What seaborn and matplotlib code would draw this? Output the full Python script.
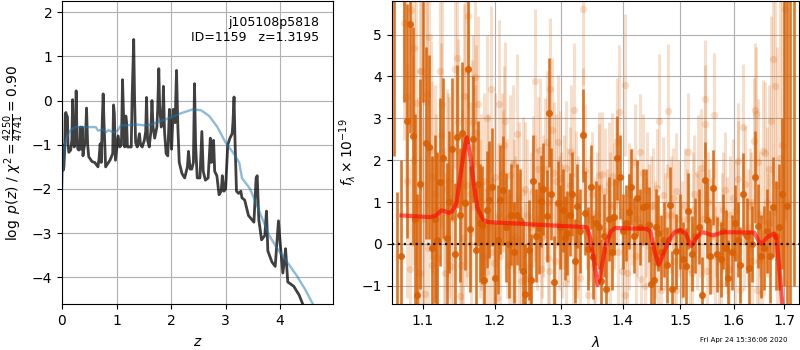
import matplotlib
matplotlib.use('Agg')
import matplotlib.pyplot as plt
from matplotlib.ticker import NullFormatter
import seaborn as sns

# p(z) (black curve)
z_grid = [0, .02, .035, .05, .06, .07, .085, .10, .11, .125, .16, .18, .195, .21, .225,
          .245, .26, .275, .29, .31, .325, .335, .345, .36, .37, .385, .40, .43, .45, .47,
          .49, .55, .6, .66, .68, .70, .72, .74, .755, .77, .80, .88, .93, .945, .96,
          .98, 1.03, 1.06, 1.09, 1.11, 1.13, 1.15, 1.17, 1.185, 1.2, 1.24, 1.27, 1.285, 1.30, 1.315,
          1.33, 1.35, 1.38, 1.42, 1.44, 1.47, 1.51, 1.535, 1.55, 1.57, 1.6, 1.63, 1.65, 1.67, 1.7,
          1.74, 1.755, 1.775, 1.79, 1.82, 1.845, 1.86, 1.88, 1.91, 1.94, 1.97, 1.985, 2.01, 2.04, 2.075,
          2.1, 2.125, 2.15, 2.2, 2.25, 2.3, 2.32, 2.35, 2.38, 2.41, 2.43, 2.45, 2.48, 2.53, 2.565,
          2.59, 2.63, 2.68, 2.72, 2.74, 2.76, 2.78, 2.8, 2.84, 2.88, 2.92, 2.94, 2.97, 3.0, 3.04,
          3.08, 3.12, 3.135, 3.155, 3.175, 3.2, 3.24, 3.28, 3.3, 3.35, 3.42, 3.52, 3.56, 3.58, 3.61,
          3.66, 3.72, 3.75, 3.775, 3.85, 3.91, 3.97, 4.0, 4.05, 4.08, 4.1, 4.14, 4.25, 4.35, 4.43]
logp = [-1.0, -1.58, -1.5, -1.1, -0.3, -0.27, -0.33, -0.37, -1.0, -1.17, -1.12, -0.9, 0.02, -0.9, -1.05,
        -0.9, 0.22, -0.9, -1.1, -1.12, -1.0, -0.6, -1.1, -1.0, -0.6, -1.25, -1.1, -0.9, -0.17, -1.0,
        -1.27, -1.38, -1.4, -1.5, -1.3, -0.98, -1.4, -0.4, 0.15, -0.5, -1.5, -1.35, -1.2, -0.1, -0.3,
        -1.35, -0.8, -1.05, -1.0, 0.47, -0.4, -1.05, -0.35, -0.5, -1.05, -1.05, -1.05, 0.0, 0.65, 1.38,
        0.1, -0.95, -1.05, -0.75, -1.0, -1.05, -0.9, -0.7, 0.07, -0.9, -1.05, -0.7, 0.0, -0.6, -0.85,
        -0.6, -0.2, 0.72, -0.1, -0.6, -0.4, 0.32, -0.7, -1.2, -1.25, -0.2, -0.6, -1.1, -0.2, -0.5,
        0.68, -0.6, -1.4, -1.65, -1.75, -1.5, -1.15, -1.55, -1.55, -1.4, 0.38, -1.0, -1.75, -1.75, -0.7,
        -1.6, -1.8, -1.75, -0.85, -1.4, -1.0, -0.9, -1.6, -1.7, -2.13, -2.05, -1.7, -2.05, -2.0, -1.0,
        -0.85, -0.75, -0.5, 0.08, -1.0, -2.05, -2.1, -2.05, -2.2, -2.25, -2.6, -2.75, -1.75, -1.7, -2.7,
        -3.15, -3.05, -2.5, -3.4, -3.65, -3.75, -2.72, -3.2, -3.9, -3.6, -3.35, -4.1, -4.2, -4.4, -4.65]

# prior (blue curve)
z_prior = [0.0, 0.03, 0.06, 0.1, 0.15, 0.25, 0.4, 0.62, 0.66, 0.7, 0.75, 0.8, 0.85, 0.95, 1.02, 1.08, 1.2, 1.35,
           1.5, 1.6, 1.8, 2.0, 2.2, 2.4, 2.55, 2.7, 2.85, 3.0, 3.15, 3.25, 3.3, 3.45, 3.6, 3.7, 3.8, 3.95,
           4.1, 4.3, 4.45, 4.6, 4.65]
log_prior = [-2.0, -1.2, -0.95, -0.8, -0.68, -0.6, -0.6, -0.6, -0.68, -0.67, -0.65, -0.72, -0.67, -0.72, -0.68,
             -0.56, -0.56, -0.54, -0.56, -0.55, -0.47, -0.38, -0.28, -0.2, -0.22, -0.35, -0.6, -0.95, -1.2,
             -1.4, -1.75, -2.0, -2.45, -2.75, -3.05, -3.35, -3.6, -3.95, -4.25, -4.6, -4.7]

# binned spectrum
dark_wave = [1.062, 1.067, 1.072, 1.076, 1.079, 1.083, 1.087, 1.090, 1.093, 1.096,
             1.100, 1.104, 1.108, 1.112, 1.116, 1.119, 1.123, 1.127, 1.132, 1.135,
             1.139, 1.143, 1.147, 1.150, 1.154, 1.158, 1.162, 1.165, 1.169, 1.173,
             1.176, 1.179, 1.182, 1.185, 1.188, 1.192, 1.196, 1.200, 1.204, 1.208,
             1.212, 1.216, 1.220, 1.224, 1.228, 1.233, 1.237, 1.241, 1.245, 1.250,
             1.254, 1.256, 1.261, 1.265, 1.268, 1.272, 1.277, 1.281, 1.284, 1.289,
             1.294, 1.298, 1.302, 1.305, 1.309, 1.313, 1.317, 1.321, 1.325, 1.329,
             1.334, 1.337, 1.342, 1.347, 1.350, 1.355, 1.360, 1.363, 1.368, 1.372,
             1.377, 1.382, 1.385, 1.390, 1.395, 1.400, 1.405, 1.410, 1.414, 1.419,
             1.424, 1.429, 1.434, 1.440, 1.444, 1.449, 1.453, 1.457, 1.461, 1.466,
             1.471, 1.476, 1.481, 1.486, 1.493, 1.499, 1.505, 1.511, 1.515, 1.521,
             1.527, 1.534, 1.540, 1.546, 1.550, 1.555, 1.560, 1.568, 1.575, 1.580,
             1.585, 1.590, 1.596, 1.602, 1.608, 1.613, 1.619, 1.625, 1.630, 1.636,
             1.641, 1.647, 1.653, 1.660, 1.665, 1.671, 1.678, 1.684, 1.690, 1.695,
             1.700, 1.706, 1.713, 1.720]
dark_flux = [6.5, -1.6, -0.3, 6.2, 2.93, 5.25, 2.57, 0.6, -1.22, 1.43,
             6.1, 2.41, 2.32, -0.1, 0.6, 0.1, 1.48, 2.05, 0.14, 1.0,
             2.27, -0.24, 2.56, 0.7, 2.65, 0.98, 4.18, 0.36, 2.5, -0.14,
             1.44, 0.5, 0.45, -0.87, 0.82, 1.06, 1.36, -0.81, 0.1, 1.06,
             1.28, 0.4, 0.0, 0.7, -0.2, 0.7, 0.58, -0.64, -1.2, -0.14,
             -0.87, 1.5, 0.2, 0.38, 1.02, 1.31, 0.66, 3.13, 1.2, -0.9,
             0.98, 0.4, 0.8, 0.14, 0.26, 0.7, 1.2, -0.4, 0.9, 0.3,
             2.59, 0.74, -0.11, 1.36, -0.31, 0.5, 0.4, -0.89, 0.2, -1.07,
             0.6, -0.19, 0.64, 2.05, 1.6, 0.3, 0.5, 0.77, 1.36, 0.2,
             1.1, 0.4, 0.88, 0.9, 0.46, -0.95, -0.85, 0.4, 0.26, -0.2,
             0.1, -0.5, 0.94, -1.07, -0.18, 0.3, -0.37, -0.53, 0.79, -0.23,
             0.2, 0.41, -1.22, 1.53, 0.57, -0.3, 1.34, -0.25, -0.37, 0.3,
             -0.1, -0.81, -0.2, 0.5, 0.1, -0.5, 1.18, 0.2, -0.57, 0.0,
             1.59, 0.42, -0.3, -0.1, 0.3, -0.3, 0.88, 0.2, 0.4, 1.2,
             7.0, 0.9, 7.0, 8.0]
dark_err = [4.4, 2.85, 2.3, 2.8, 2.8, 2.6, 2.6, 2.5, 2.4, 2.5,
            2.7, 2.3, 2.2, 2.2, 2.0, 2.1, 2.0, 1.9, 1.8, 1.7,
            1.7, 1.7, 1.7, 1.6, 1.7, 1.6, 1.8, 1.5, 1.5, 1.5,
            1.5, 1.4, 1.4, 1.4, 1.4, 1.4, 1.4, 1.3, 1.3, 1.3,
            1.3, 1.3, 1.3, 1.2, 1.2, 1.2, 1.2, 1.2, 1.2, 1.2,
            1.1, 1.1, 1.1, 1.1, 1.1, 1.1, 1.1, 1.3, 1.1, 1.1,
            1.0, 1.0, 1.0, 1.0, 1.0, 1.0, 1.0, 1.0, 1.0, 1.0,
            1.1, 1.0, 1.0, 1.0, 1.0, 1.0, 1.0, 1.0, 1.0, 1.0,
            1.0, 0.9, 0.9, 1.0, 1.0, 0.9, 0.9, 0.9, 0.9, 0.9,
            0.9, 0.9, 0.9, 0.9, 0.9, 0.9, 0.9, 0.9, 0.9, 0.9,
            0.9, 0.9, 0.9, 0.9, 0.9, 0.9, 0.9, 0.9, 0.9, 0.9,
            0.9, 0.9, 0.9, 0.9, 0.9, 0.9, 0.9, 0.9, 0.9, 0.9,
            0.9, 0.9, 0.9, 0.9, 0.9, 0.9, 1.0, 0.9, 0.9, 0.9,
            1.1, 1.0, 1.0, 1.0, 1.0, 1.1, 1.2, 1.3, 1.5, 1.8,
            8.0, 8.0, 9.0, 9.0]

# unbinned spectrum (pale)
light_wave = [1.076, 1.080, 1.085, 1.088, 1.091, 1.096, 1.096, 1.098, 1.103, 1.104,
              1.106, 1.109, 1.111, 1.113, 1.116, 1.119, 1.123, 1.126, 1.130, 1.133,
              1.136, 1.138, 1.143, 1.146, 1.150, 1.153, 1.155, 1.156, 1.157, 1.160,
              1.162, 1.164, 1.167, 1.169, 1.171, 1.173, 1.176, 1.180, 1.184, 1.187,
              1.188, 1.191, 1.194, 1.198, 1.200, 1.203, 1.206, 1.207, 1.210, 1.213,
              1.215, 1.218, 1.222, 1.225, 1.227, 1.230, 1.233, 1.236, 1.238, 1.242,
              1.245, 1.248, 1.250, 1.253, 1.256, 1.259, 1.262, 1.264, 1.267, 1.268,
              1.271, 1.274, 1.277, 1.279, 1.281, 1.283, 1.285, 1.288, 1.292, 1.294,
              1.296, 1.298, 1.301, 1.304, 1.307, 1.308, 1.311, 1.315, 1.318, 1.320,
              1.323, 1.327, 1.330, 1.334, 1.335, 1.338, 1.342, 1.345, 1.349, 1.353,
              1.357, 1.360, 1.361, 1.366, 1.370, 1.373, 1.376, 1.379, 1.381, 1.385,
              1.388, 1.390, 1.394, 1.398, 1.403, 1.404, 1.407, 1.411, 1.416, 1.420,
              1.424, 1.430, 1.431, 1.435, 1.437, 1.441, 1.445, 1.451, 1.455, 1.458,
              1.463, 1.466, 1.469, 1.473, 1.479, 1.484, 1.489, 1.493, 1.493, 1.498,
              1.503, 1.508, 1.515, 1.518, 1.523, 1.526, 1.530, 1.533, 1.538, 1.542,
              1.546, 1.546, 1.549, 1.553, 1.558, 1.562, 1.566, 1.571, 1.575, 1.579,
              1.583, 1.588, 1.593, 1.598, 1.603, 1.608, 1.609, 1.613, 1.618, 1.622,
              1.627, 1.632, 1.636, 1.640, 1.642, 1.644, 1.645, 1.648, 1.652, 1.656,
              1.658, 1.662, 1.666, 1.670, 1.674, 1.678, 1.682, 1.686, 1.692, 1.696,
              1.703, 1.078, 1.083, 1.087, 1.094, 1.100, 1.107, 1.112, 1.118, 1.124,
              1.129, 1.134, 1.141, 1.148, 1.152, 1.159, 1.166, 1.172, 1.178, 1.183,
              1.190, 1.196, 1.205, 1.212, 1.220, 1.228, 1.235, 1.244, 1.252, 1.260,
              1.270, 1.280, 1.290, 1.300, 1.313, 1.325, 1.340, 1.352, 1.364, 1.378,
              1.392, 1.410, 1.422, 1.440, 1.448, 1.461, 1.476, 1.487, 1.501, 1.512,
              1.521, 1.536, 1.551, 1.565, 1.578, 1.591, 1.605, 1.620, 1.634, 1.650,
              1.668]
light_flux = [5.28, 1.5, 5.58, 4.68, 3.37, 4.12, -0.7, 4.12, -1.19, 3.4,
              3.57, 4.94, 2.25, -0.5, 1.2, -0.33, 4.12, 3.34, -0.7, 1.3,
              1.1, -0.53, 4.18, 4.44, -1.25, 0.9, 0.14, 3.53, 4.12, 1.4,
              5.44, 1.2, 2.3, 2.9, 3.99, 2.65, 3.34, 1.0, 1.5, -0.68,
              3.0, 0.4, 3.69, -0.45, 1.6, -1.3, 3.34, -0.3, 1.7, 2.35,
              2.93, 0.6, 1.65, 0.1, 1.9, 0.2, 2.63, 1.1, -0.89, 1.24,
              -0.83, 0.7, -0.53, 0.4, 1.26, 3.9, 0.6, 1.8, 2.25, -0.61,
              0.9, 1.78, 2.43, -0.33, -0.65, 3.7, 2.73, 1.7, 1.5, 2.43,
              0.5, 1.58, 0.3, 1.0, 1.82, -0.93, 0.7, 2.2, 0.1, 3.2,
              1.1, 0.5, -0.81, 5.6, 2.61, 1.75, -1.23, 0.6, 1.18, 0.1,
              0.7, 1.64, 1.36, 1.66, 1.26, 0.3, 1.42, -0.2, 1.63, 0.9,
              1.5, 2.45, 3.14, -0.65, 3.79, -1.21, -0.69, 0.3, 0.9, 1.95,
              0.6, 2.19, -0.84, 1.7, -1.01, 1.28, 0.5, 0.9, 0.1, 1.34,
              2.93, -1.09, 1.16, 0.3, 3.17, 0.7, -0.4, 1.26, -1.1, 0.6,
              0.1, 0.9, 2.2, -0.6, 0.8, 1.19, 0.3, 1.67, 1.82, 0.6,
              3.46, 2.87, -0.65, 0.4, 0.2, 3.07, 0.6, -0.4, -0.93, 0.8,
              1.28, 0.2, 0.7, 1.1, -0.3, 1.97, 1.54, -1.09, 2.79, 1.42,
              0.4, 0.9, -0.4, 2.45, 3.2, 3.1, -1.09, 1.95, 0.7, -1.17,
              2.21, 2.17, 1.0, 1.8, 2.93, 4.42, 3.78, 1.4, 2.05, 2.35,
              5.6, 3.5, -0.6, 2.0, 1.0, 0.6, -0.1, 1.6, 0.8, 2.6,
              0.1, 1.5, 0.6, 2.9, -0.5, 1.0, 0.0, 1.9, 0.6, -0.3,
              1.3, -0.2, 0.7, 1.5, -0.5, 0.9, 0.1, 1.3, -0.8, 1.1,
              0.2, 1.0, -0.4, 0.8, 1.4, 0.0, 0.7, -0.5, 0.3, 0.9,
              -0.2, 1.2, -0.3, 0.4, 0.9, -0.5, 0.7, 1.1, -0.2, 0.6,
              -0.7, 0.4, 1.0, -0.3, 0.5, -0.6, 0.8, 0.1, 1.0, -0.4,
              0.5]
light_err = [2.8, 2.8, 2.8, 2.8, 2.8, 2.8, 2.8, 2.7, 2.7, 2.7,
             2.7, 2.7, 2.6, 2.6, 2.6, 2.5, 2.5, 2.5, 2.4, 2.4,
             2.4, 2.4, 2.4, 2.3, 2.3, 2.3, 2.3, 2.2, 2.2, 2.2,
             2.2, 2.2, 2.1, 2.1, 2.1, 2.1, 2.1, 2.1, 2.1, 2.0,
             2.0, 2.0, 2.0, 2.0, 2.0, 2.0, 2.0, 2.0, 1.9, 1.9,
             1.9, 1.9, 1.9, 1.9, 1.9, 1.9, 1.9, 1.8, 1.8, 1.8,
             1.8, 1.8, 1.8, 1.8, 1.8, 1.7, 1.7, 1.7, 1.7, 1.7,
             1.7, 1.7, 1.7, 1.7, 1.7, 1.7, 1.7, 1.7, 1.6, 1.6,
             1.6, 1.6, 1.6, 1.6, 1.6, 1.6, 1.6, 1.6, 1.6, 1.6,
             1.6, 1.6, 1.6, 1.8, 1.6, 1.6, 1.5, 1.5, 1.5, 1.5,
             1.5, 1.5, 1.5, 1.5, 1.5, 1.5, 1.5, 1.5, 1.5, 1.5,
             1.5, 1.5, 1.6, 1.5, 1.7, 1.5, 1.4, 1.4, 1.4, 1.4,
             1.4, 1.4, 1.4, 1.4, 1.4, 1.4, 1.4, 1.4, 1.4, 1.4,
             1.6, 1.4, 1.4, 1.4, 1.6, 1.4, 1.4, 1.4, 1.4, 1.4,
             1.4, 1.4, 1.4, 1.4, 1.4, 1.4, 1.4, 1.4, 1.4, 1.4,
             1.4, 1.4, 1.4, 1.4, 1.4, 1.5, 1.4, 1.4, 1.4, 1.4,
             1.4, 1.4, 1.4, 1.4, 1.4, 1.4, 1.4, 1.4, 1.5, 1.4,
             1.4, 1.4, 1.4, 1.5, 1.6, 1.6, 1.4, 1.5, 1.5, 1.5,
             1.7, 1.7, 1.8, 2.0, 2.5, 2.8, 3.1, 3.3, 3.8, 4.3,
             5.0, 2.6, 2.5, 2.5, 2.5, 2.4, 2.4, 2.3, 2.3, 2.2,
             2.2, 2.1, 2.1, 2.0, 2.0, 2.0, 1.9, 1.9, 1.9, 1.8,
             1.8, 1.8, 1.7, 1.7, 1.7, 1.6, 1.6, 1.6, 1.5, 1.5,
             1.5, 1.4, 1.4, 1.4, 1.4, 1.3, 1.3, 1.3, 1.3, 1.3,
             1.3, 1.2, 1.2, 1.2, 1.2, 1.2, 1.2, 1.2, 1.2, 1.2,
             1.2, 1.2, 1.2, 1.2, 1.2, 1.2, 1.2, 1.2, 1.2, 1.2,
             1.2]

# model
model_wave = [1.072, 1.11, 1.118, 1.125, 1.13, 1.135, 1.14, 1.146, 1.15, 1.155, 1.16, 1.165, 1.17, 1.175, 1.183,
              1.19, 1.3, 1.34, 1.345, 1.352, 1.358, 1.362, 1.37, 1.38, 1.387, 1.44, 1.447, 1.455, 1.462, 1.47,
              1.48, 1.49, 1.5, 1.51, 1.515, 1.52, 1.53, 1.54, 1.55, 1.56, 1.58, 1.64, 1.65, 1.655, 1.665,
              1.68, 1.685, 1.692, 1.697]
model_flux = [0.68, 0.64, 0.68, 0.8, 0.78, 0.74, 0.78, 1.0, 1.5, 2.1, 2.55, 2.1, 1.4, 0.85, 0.58,
              0.52, 0.43, 0.4, 0.2, -0.4, -0.98, -0.8, -0.1, 0.3, 0.38, 0.36, 0.3, -0.2, -0.5, -0.25,
              0.1, 0.28, 0.33, 0.25, 0.1, -0.05, 0.15, 0.28, 0.25, 0.2, 0.28, 0.27, 0.05, 0.0, 0.15,
              0.25, 0.1, -0.8, -1.5]

orange = '#d95f02'

fig = plt.figure(figsize=(8, 3.5), dpi=100)
ax = fig.add_axes([62 / 800, 46 / 350, 271 / 800, 303 / 350])
sns.lineplot(x=z_grid, y=logp, ax=ax, color='k', lw=2, alpha=0.75, sort=False, errorbar=None)
sns.lineplot(x=z_prior, y=log_prior, ax=ax, color='tab:blue', lw=1.7, alpha=0.5, sort=False, errorbar=None)
ax.set_xlim(0, 4.97)
ax.set_ylim(-4.6, 2.25)
ax.set_xticks([0, 1, 2, 3, 4])
ax.set_yticks([-4, -3, -2, -1, 0, 1, 2])
ax.grid()
ax.set_xlabel(r'$z$', labelpad=5)
ax.set_ylabel(r'$\log\ p(z)$ / $\chi^2=\frac{4250}{4741}=0.90$')
ax.text(0.95, 0.95, 'j105108p5818\nID=1159   z=1.3195', ha='right', va='top',
        transform=ax.transAxes, fontsize=9)

ax2 = fig.add_axes([391.5 / 800, 46 / 350, 407.5 / 800, 303 / 350])
ax2.vlines(light_wave, [f - e for f, e in zip(light_flux, light_err)],
           [f + e for f, e in zip(light_flux, light_err)], color=orange, alpha=0.2, lw=2.2)
ax2.vlines(dark_wave, [f - e for f, e in zip(dark_flux, dark_err)],
           [f + e for f, e in zip(dark_flux, dark_err)], color=orange, alpha=0.85, lw=1.9)
sns.scatterplot(x=light_wave, y=light_flux, ax=ax2, color=orange, alpha=0.2, s=28, lw=0, zorder=2)
sns.scatterplot(x=dark_wave, y=dark_flux, ax=ax2, color=orange, alpha=0.9, s=26, lw=0, zorder=2)
ax2.axhline(0, color='k', ls=':', lw=1.6, alpha=0.9, zorder=3)
sns.lineplot(x=model_wave, y=model_flux, ax=ax2, color='r', lw=3, alpha=0.6, sort=False, errorbar=None, zorder=4)
ax2.set_xscale('log')
ax2.set_xlim(1.0594, 1.731)
ax2.set_ylim(-1.435, 5.8)
ax2.set_xticks([1.1, 1.2, 1.3, 1.4, 1.5, 1.6, 1.7])
ax2.set_xticklabels(['1.1', '1.2', '1.3', '1.4', '1.5', '1.6', '1.7'])
ax2.xaxis.set_minor_formatter(NullFormatter())
ax2.tick_params(axis='x', which='minor', length=0)
ax2.set_yticks([-1, 0, 1, 2, 3, 4, 5])
ax2.grid()
ax2.set_xlabel(r'$\lambda$', labelpad=5)
ax2.set_ylabel(r'$f_\lambda\times10^{-19}$')
ax2.yaxis.labelpad = 2

fig.text(0.875, 0.02, 'Fri Apr 24 15:36:06 2020', fontsize=5, ha='left', va='bottom')

fig.savefig('out.png', dpi=100)
